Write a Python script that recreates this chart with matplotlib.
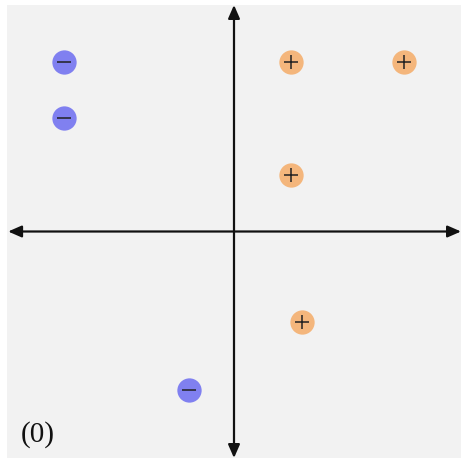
import matplotlib.pyplot as plt
from matplotlib.patches import FancyArrowPatch

# points of the two classes
neg_x = [-3, -3, -0.8]
neg_y = [3, 2, -2.8]
pos_x = [1, 3, 1, 1.2]
pos_y = [3, 3, 1, -1.6]
panel_label = "(0)"

fig = plt.figure(figsize=(4.61, 4.59), dpi=100)
ax = fig.add_axes([7 / 461, 1 / 459, 454 / 461, 453 / 459])
ax.set_facecolor('#f2f2f2')
ax.set_xlim(-4, 4)
ax.set_ylim(-4, 4)
for s in ax.spines.values():
    s.set_visible(False)
ax.set_xticks([])
ax.set_yticks([])

# coordinate axes with arrow heads on both ends
for start, end in [((-3.98, 0), (4, 0)), ((0, -4), (0, 4))]:
    arr = FancyArrowPatch(start, end, arrowstyle='<|-|>,head_length=8,head_width=3.5',
                          mutation_scale=1, lw=1.6, color='#111111', shrinkA=0, shrinkB=0)
    ax.add_patch(arr)

# class markers
ax.plot(neg_x, neg_y, 'o', ms=17.5, color='#8080f0', mec='none', zorder=3)
ax.plot(neg_x, neg_y, '_', ms=10, mew=1.1, color='#222222', zorder=4)
ax.plot(pos_x, pos_y, 'o', ms=17.5, color='#f4b67c', mec='none', zorder=3)
ax.plot(pos_x, pos_y, '+', ms=10, mew=1.1, color='#222222', zorder=4)

ax.text(-3.76, -3.72, panel_label, fontsize=21, family='Liberation Serif',
        ha='left', va='baseline', color='#111111')

fig.savefig('out.png', dpi=100)
